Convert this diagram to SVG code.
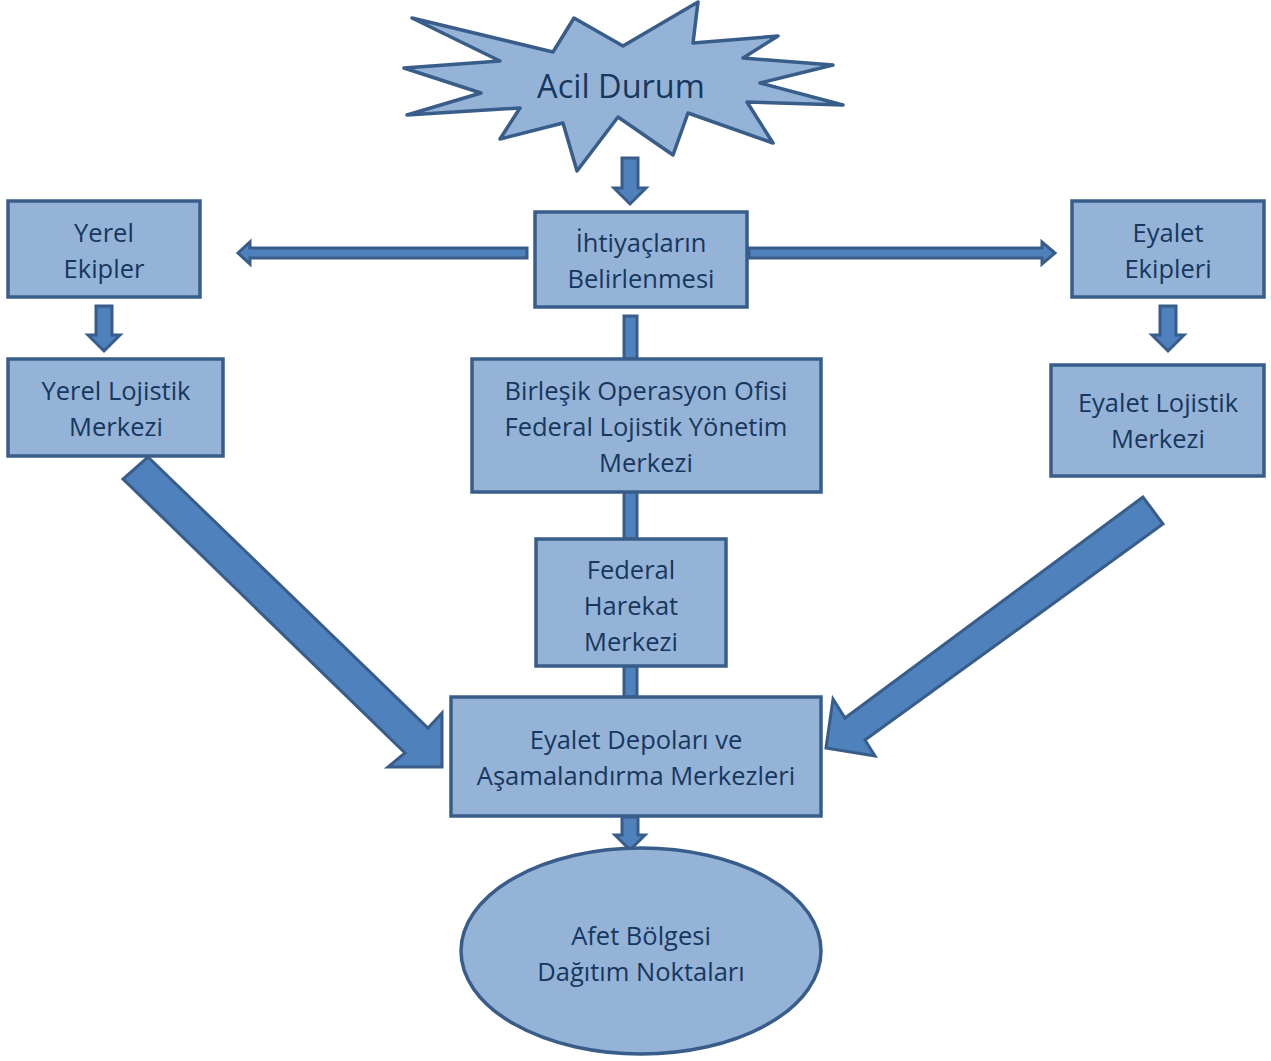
<svg xmlns="http://www.w3.org/2000/svg" width="1271" height="1061" viewBox="0 0 1271 1061">
<style>
.box{fill:#95B3D7;stroke:#385D8A;stroke-width:3.5;}
.arr{fill:#4F81BD;stroke:#385D8A;stroke-width:3;stroke-linejoin:miter;}
.t{font-family:"Open Sans","Liberation Sans",sans-serif;font-size:25.5px;fill:#17375E;text-anchor:middle;}
</style>
<rect width="1271" height="1061" fill="#ffffff"/>
<g id="connectors">
<rect class="arr" x="624" y="316" width="13" height="43"/>
<rect class="arr" x="624" y="492" width="13" height="47"/>
<rect class="arr" x="624" y="666" width="13" height="31"/>
<path class="arr" d="M622,158 H638 V188 H646 L630,204 L614,188 H622 Z"/>
<path class="arr" d="M527,248 V258 H250 V264 L238,253 L250,242 V248 Z"/>
<path class="arr" d="M749,248 V258 H1042 V264 L1055,253 L1042,242 V248 Z"/>
<path class="arr" d="M96,306 H112 V335 H120 L104,351 L88,335 H96 Z"/>
<path class="arr" d="M1160,306 H1176 V335 H1184 L1168,351 L1152,335 H1160 Z"/>
<path class="arr" d="M622,817 H638 V835 H645 L630,850 L615,835 H622 Z"/>
<path class="arr" d="M148,457 L428,728 L442,713 L442,767 L388,767 L405,753 L123,479 Z"/>
<path class="arr" d="M1143,497 L845,718 L833,699 L826,748 L875,756 L865,740 L1163,524 Z"/>
</g>
<g id="acil-durum">
<path class="box" stroke-linejoin="round" stroke-width="4" d="M412,18 L553,52 L574,18 L623,46 L698,2 L693,43 L778,36 L743,58 L833,65 L760,83 L843,105 L747,102 L773,143 L688,113 L673,155 L618,117 L577,171 L563,123 L500,139 L520,108 L407,115 L481,93 L404,68 L500,61 Z"/>
<text class="t" x="621" y="98" style="font-size:32.5px">Acil Durum</text>
</g>
<g id="yerel-ekipler">
<rect class="box" x="8" y="201" width="192" height="96"/>
<text class="t" x="104" y="242">Yerel</text>
<text class="t" x="104" y="278">Ekipler</text>
</g>
<g id="ihtiyaclar">
<rect class="box" x="535" y="212" width="212" height="95"/>
<text class="t" x="641" y="252">İhtiyaçların</text>
<text class="t" x="641" y="288">Belirlenmesi</text>
</g>
<g id="eyalet-ekipleri">
<rect class="box" x="1072" y="201" width="192" height="96"/>
<text class="t" x="1168" y="242">Eyalet</text>
<text class="t" x="1168" y="278">Ekipleri</text>
</g>
<g id="yerel-lojistik">
<rect class="box" x="8" y="359" width="215" height="97"/>
<text class="t" x="116" y="400">Yerel Lojistik</text>
<text class="t" x="116" y="436">Merkezi</text>
</g>
<g id="birlesik">
<rect class="box" x="472" y="359" width="349" height="133"/>
<text class="t" x="646" y="400">Birleşik Operasyon Ofisi</text>
<text class="t" x="646" y="436">Federal Lojistik Yönetim</text>
<text class="t" x="646" y="472">Merkezi</text>
</g>
<g id="eyalet-lojistik">
<rect class="box" x="1051" y="365" width="213" height="111"/>
<text class="t" x="1158" y="412">Eyalet Lojistik</text>
<text class="t" x="1158" y="448">Merkezi</text>
</g>
<g id="federal-harekat">
<rect class="box" x="536" y="539" width="190" height="127"/>
<text class="t" x="631" y="579">Federal</text>
<text class="t" x="631" y="615">Harekat</text>
<text class="t" x="631" y="651">Merkezi</text>
</g>
<g id="eyalet-depolari">
<rect class="box" x="451" y="697" width="370" height="119"/>
<text class="t" x="636" y="749">Eyalet Depoları ve</text>
<text class="t" x="636" y="785">Aşamalandırma Merkezleri</text>
</g>
<g id="afet-bolgesi">
<ellipse class="box" cx="641" cy="951" rx="180" ry="103" stroke-width="4"/>
<text class="t" x="641" y="945">Afet Bölgesi</text>
<text class="t" x="641" y="981">Dağıtım Noktaları</text>
</g>
</svg>
